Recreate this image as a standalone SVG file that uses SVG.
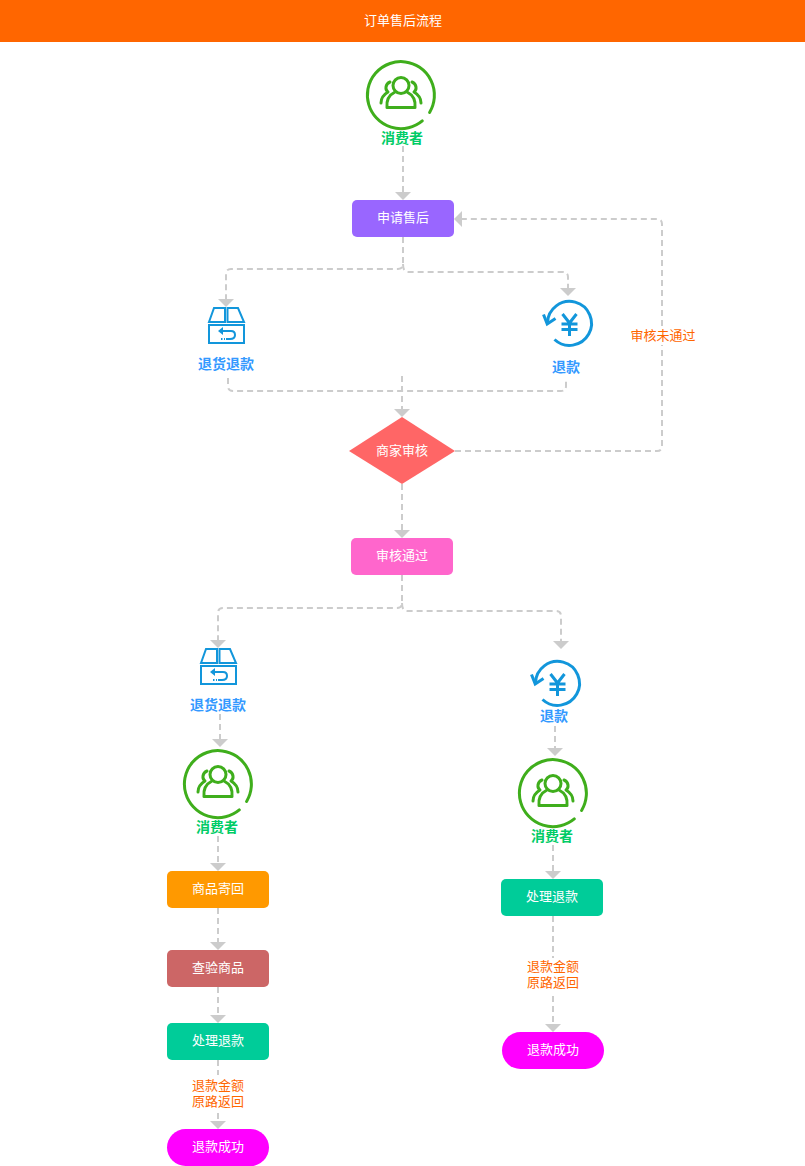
<svg xmlns="http://www.w3.org/2000/svg" width="805" height="1166" viewBox="0 0 805 1166">
<style>
text{font-family:"Microsoft YaHei","Noto Sans CJK SC","Liberation Sans",sans-serif;text-anchor:middle}
.w{font-size:13px;fill:#fff}
.o{font-size:13px;fill:#ff6600}
.g{font-size:14px;font-weight:700;fill:#00cc66}
.b{font-size:14px;font-weight:700;fill:#3399ff}
.c{fill:none;stroke:#ccc;stroke-width:2;stroke-dasharray:6 4}
.s{fill:none;stroke:#3fae1c;stroke-width:3;stroke-linecap:round;stroke-linejoin:round}
.t{fill:none;stroke:#1296db;stroke-width:2}
.y{fill:none;stroke:#1296db;stroke-width:3}
</style>
<defs>
<marker id="a" markerUnits="userSpaceOnUse" markerWidth="8" markerHeight="16" refX="0" refY="8" orient="auto" viewBox="0 0 8 16"><path d="M0 0L8 8L0 16Z" fill="#ccc"/></marker>
<g id="user"><path class="s" d="M28.600 17.400A33.500 33.500 0 1 0 21.300 25.900"/><circle class="s" cx="0" cy="-9.500" r="8"/><path class="s" d="M-14 12.500C-15 3-10-1-6-3M14 12.500C15 3 10-1 6-3M-14 12.500H14M-11-13C-16-11-16-5-13-3C-18 0-20 3-20 8M11-13C16-11 16-5 13-3C18 0 20 3 20 8"/></g>
<g id="box"><path class="t" d="M1 15L6 1H17V15ZM19.500 1H30L36 15H19.500ZM1 18H36V36H1Z"/><path d="M13 24H23Q27 24 27 28Q27 32 22 32H18" fill="none" stroke="#1296db" stroke-width="2"/><path d="M13 32H17" fill="none" stroke="#1296db" stroke-width="2" stroke-dasharray="1.500 1.500"/><path d="M10 24L15 20V28Z" fill="#1296db"/></g>
<g id="yen"><path class="y" d="M-22 0A22 22 0 1 1-15 16.500"/><path class="y" d="M-26-8.500L-22.300 1L-14-4.500"/><path class="y" d="M-7-9L0 0L7-9M-8 1H8M-8 6.500H8M0 0V13"/></g>
</defs>
<rect width="805" height="1166" fill="#fff"/>
<g id="header"><rect width="805" height="42" fill="#ff6600"/><text class="w" x="403" y="25">订单售后流程</text></g>
<g id="connectors">
<path class="c" d="M403 146V192" marker-end="url(#a)"/>
<path class="c" d="M403 237V264Q403 269 398 269H231Q226 269 226 274V299" marker-end="url(#a)"/>
<path class="c" d="M403 264Q403 272 408 272H563Q568 272 568 277V288" marker-end="url(#a)"/>
<path class="c" d="M228 378V386Q228 391 233 391H561Q566 391 566 386V378"/>
<path class="c" d="M402 376V409" marker-end="url(#a)"/>
<path class="c" d="M455 451H657Q662 451 662 446V224Q662 219 657 219H462" marker-end="url(#a)"/>
<path class="c" d="M402 484V530" marker-end="url(#a)"/>
<path class="c" d="M402 575V603Q402 608 397 608H223Q218 608 218 613V640" marker-end="url(#a)"/>
<path class="c" d="M402 603Q402 611 407 611H556Q561 611 561 616V641" marker-end="url(#a)"/>
<path class="c" d="M220 714V739" marker-end="url(#a)"/>
<path class="c" d="M218 836V863" marker-end="url(#a)"/>
<path class="c" d="M218 908V942" marker-end="url(#a)"/>
<path class="c" d="M218 987V1015" marker-end="url(#a)"/>
<path class="c" d="M218 1060V1075"/>
<path class="c" d="M218 1113V1121" marker-end="url(#a)"/>
<path class="c" d="M555 726V748" marker-end="url(#a)"/>
<path class="c" d="M553 845V871" marker-end="url(#a)"/>
<path class="c" d="M553 916V958"/>
<path class="c" d="M553 996V1024" marker-end="url(#a)"/>
</g>
<g id="consumer1"><use href="#user" x="401" y="95"/><text class="g" x="402" y="143">消费者</text></g>
<g id="apply"><rect x="352" y="200" width="102" height="37" rx="5" fill="#9966ff"/><text class="w" x="403" y="222">申请售后</text></g>
<g id="returnRefund1"><use href="#box" x="208" y="307"/><text class="b" x="226" y="369">退货退款</text></g>
<g id="refund1"><use href="#yen" x="569.500" y="323"/><text class="b" x="566" y="372">退款</text></g>
<g id="review"><path d="M402 417L455 451L402 484L349 451Z" fill="#ff6666"/><text class="w" x="402" y="455">商家审核</text></g>
<g id="rejected"><rect x="630" y="327" width="65" height="18" fill="#fff"/><text class="o" x="663" y="340">审核未通过</text></g>
<g id="approved"><rect x="351" y="538" width="102" height="37" rx="5" fill="#ff66cc"/><text class="w" x="402" y="560">审核通过</text></g>
<g id="returnRefund2"><use href="#box" x="200" y="648"/><text class="b" x="218" y="710">退货退款</text></g>
<g id="refund2"><use href="#yen" x="557.500" y="683"/><text class="b" x="554" y="721">退款</text></g>
<g id="consumer2"><use href="#user" x="218" y="784"/><text class="g" x="217" y="832">消费者</text></g>
<g id="consumer3"><use href="#user" x="553" y="793"/><text class="g" x="552" y="841">消费者</text></g>
<g id="send"><rect x="167" y="871" width="102" height="37" rx="5" fill="#ff9900"/><text class="w" x="218" y="893">商品寄回</text></g>
<g id="inspect"><rect x="167" y="950" width="102" height="37" rx="5" fill="#cc6666"/><text class="w" x="218" y="972">查验商品</text></g>
<g id="process1"><rect x="167" y="1023" width="102" height="37" rx="5" fill="#00cc99"/><text class="w" x="218" y="1045">处理退款</text></g>
<g id="process2"><rect x="501" y="879" width="102" height="37" rx="5" fill="#00cc99"/><text class="w" x="552" y="901">处理退款</text></g>
<g id="label1"><text class="o" x="218" y="1090">退款金额<tspan x="218" dy="16">原路返回</tspan></text></g>
<g id="label2"><text class="o" x="553" y="971">退款金额<tspan x="553" dy="16">原路返回</tspan></text></g>
<g id="success1"><rect x="167" y="1129" width="102" height="37" rx="18.500" fill="#ff00ff"/><text class="w" x="218" y="1151">退款成功</text></g>
<g id="success2"><rect x="502" y="1032" width="102" height="37" rx="18.500" fill="#ff00ff"/><text class="w" x="553" y="1054">退款成功</text></g>
</svg>
